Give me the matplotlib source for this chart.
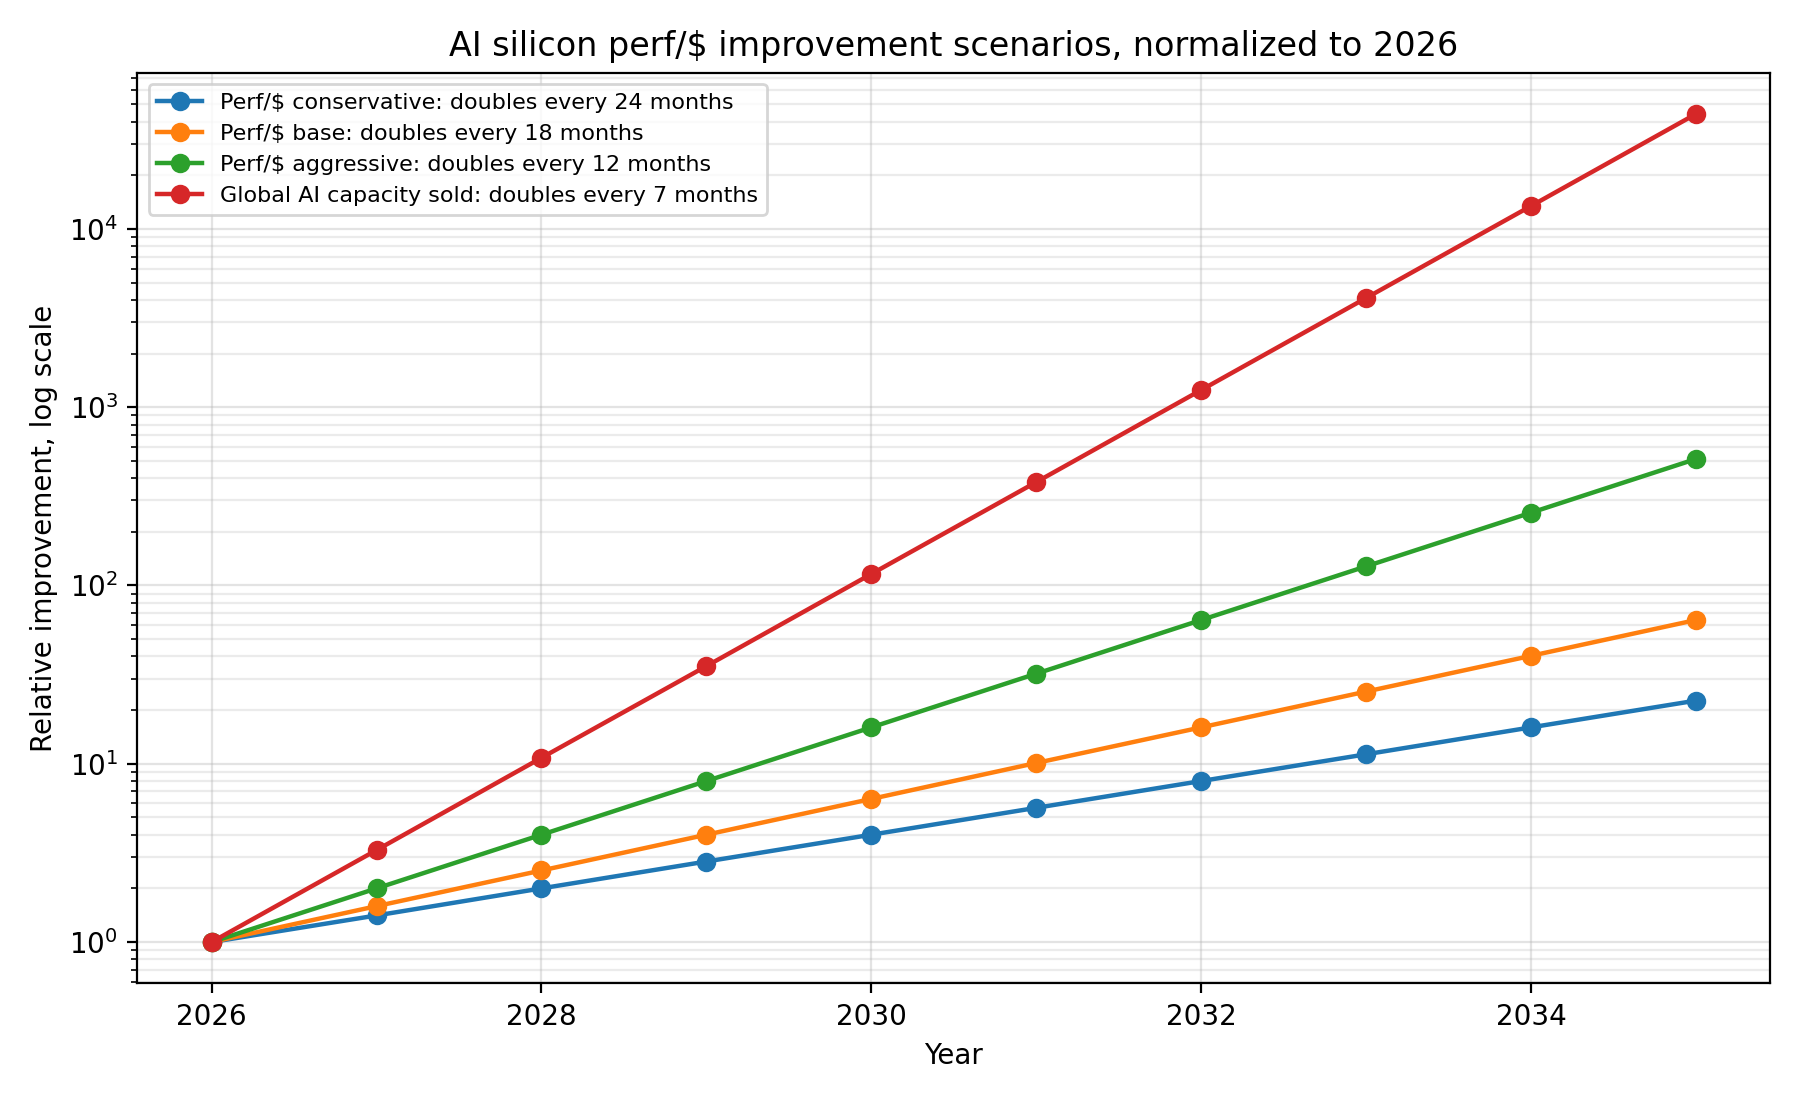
import numpy as np
import matplotlib.pyplot as plt

# years and relative improvement
years = [2026, 2027, 2028, 2029, 2030, 2031, 2032, 2033, 2034, 2035]
conservative = [1.0, 1.41, 2.0, 2.83, 4.0, 5.66, 8.0, 11.3, 16.0, 22.6]
base = [1.0, 1.59, 2.52, 4.0, 6.35, 10.1, 16.0, 25.4, 40.3, 64.0]
aggressive = [1.0, 2.0, 4.0, 8.0, 16.0, 32.0, 64.0, 128.0, 256.0, 512.0]
capacity = [1.0, 3.28, 10.8, 35.3, 116.0, 380.0, 1248.0, 4096.0, 13440.0, 44100.0]

labels = [
    'Perf/$ conservative: doubles every 24 months',
    'Perf/$ base: doubles every 18 months',
    'Perf/$ aggressive: doubles every 12 months',
    'Global AI capacity sold: doubles every 7 months',
]

fig, ax = plt.subplots(figsize=(9, 5.5), dpi=200)

for series, label in zip([conservative, base, aggressive, capacity], labels):
    ax.plot(years, series, marker='o', linewidth=1.6, markersize=6, label=label)

ax.set_yscale('log')
ax.grid(True, which='major', alpha=0.35)
ax.grid(True, which='minor', alpha=0.25)

ax.set_xlabel('Year')
ax.set_ylabel('Relative improvement, log scale')
ax.set_title('AI silicon perf/$ improvement scenarios, normalized to 2026')
ax.legend(loc='upper left', fontsize=8)

fig.tight_layout()
fig.savefig('out.png', dpi=200)
